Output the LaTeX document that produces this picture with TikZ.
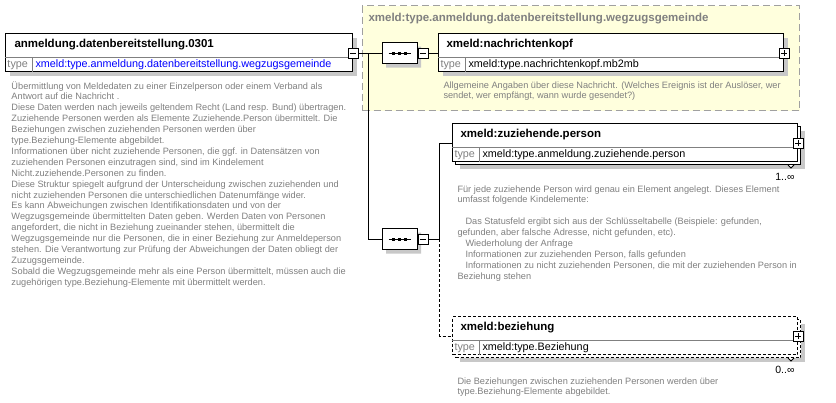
\documentclass[tikz,border=0pt]{standalone}
\usepackage{fontspec}
\setmainfont{Liberation Sans}
\usetikzlibrary{positioning, calc, shapes.misc, shadows}
\definecolor{grpyellow}{HTML}{FFFFDD}
\definecolor{grpborder}{HTML}{A0A0A0}
\definecolor{shadowgray}{HTML}{C8C8C8}
\definecolor{desctext}{HTML}{808080}

\begin{document}
\begin{tikzpicture}[
  x=1pt, y=-1pt, line width=1pt,
  boxshadow/.style={drop shadow={shadow xshift=4pt, shadow yshift=-4pt, opacity=1, fill=shadowgray}},
  elem/.style={draw, fill=white, anchor=north west, inner sep=0pt, minimum width=345pt, minimum height=38pt},
  optelem/.style={elem, dash pattern=on 3pt off 2pt},
  grpbox/.style={draw=grpborder, fill=grpyellow, dash pattern=on 7pt off 4pt, anchor=north west, inner sep=0pt, minimum width=437pt, minimum height=105pt},
  eltitle/.style={anchor=west, inner sep=0pt, font=\fontsize{11.5}{13}\selectfont\bfseries},
  typelabel/.style={anchor=west, inner sep=0pt, text=desctext, font=\fontsize{10.8}{12}\selectfont},
  typevalue/.style={anchor=west, inner sep=0pt, font=\fontsize{10.8}{12}\selectfont},
  desc/.style={anchor=north west, inner sep=0pt, align=left, text=desctext, font=\fontsize{9.2}{10.9}\selectfont},
  mult/.style={anchor=east, inner sep=0pt, font=\fontsize{10.5}{12}\selectfont},
  sepline/.style={draw=desctext},
  seq/.style={draw, fill=white, chamfered rectangle, chamfered rectangle xsep=5pt, chamfered rectangle ysep=5pt, minimum width=35pt, minimum height=21pt, inner sep=0pt, boxshadow},
  togglebox/.style={draw, fill=white, minimum size=10pt, inner sep=0pt},
  minusbox/.style={togglebox, path picture={\draw[line width=0.8pt] ([xshift=2pt]path picture bounding box.west) -- ([xshift=-2pt]path picture bounding box.east);}},
  plusbox/.style={togglebox, path picture={\draw[line width=0.8pt] ([xshift=2pt]path picture bounding box.west) -- ([xshift=-2pt]path picture bounding box.east) ([yshift=2pt]path picture bounding box.south) -- ([yshift=-2pt]path picture bounding box.north);}}
]

\path[use as bounding box, fill=white] (0,0) rectangle (836,402);

\node[grpbox] (grp) at (362,5) {};
\node[eltitle, text=desctext] (grp-title) at (368,19) {xmeld:type.anmeldung.datenbereitstellung.wegzugsgemeinde};

\node[elem, minimum width=347pt, boxshadow] (main) at (5,33) {};
\node[eltitle] (main-title) at ($(main.north west)+(9,12)$) {anmeldung.datenbereitstellung.0301};
\draw[sepline] ($(main.north west)+(0,24)$) -- ($(main.north east)+(0,24)$);
\draw[sepline] ($(main.south west)+(27,0)$) -- ($(main.south west)+(27,-14)$);
\node[typelabel] (main-type) at ($(main.south west)+(2,-7)$) {type};
\node[typevalue, text=blue] (main-typevalue) at ($(main.south west)+(30,-7)$) {xmeld:type.anmeldung.datenbereitstellung.wegzugsgemeinde};
\node[minusbox] (main-minus) at ($(main.north east)+(0,20)$) {};
\node[desc] (main-desc) at (11,79.5) {\rule{0pt}{9pt}Übermittlung von Meldedaten zu einer Einzelperson oder einem Verband als\\
Antwort auf die Nachricht .\\
Diese Daten werden nach jeweils geltendem Recht (Land resp. Bund) übertragen.\\
Zuziehende Personen werden als Elemente Zuziehende.Person übermittelt. Die\\
Beziehungen zwischen zuziehenden Personen werden über\\
type.Beziehung-Elemente abgebildet.\\
Informationen über nicht zuziehende Personen, die ggf. in Datensätzen von\\
zuziehenden Personen einzutragen sind, sind im Kindelement\\
Nicht.zuziehende.Personen zu finden.\\
Diese Struktur spiegelt aufgrund der Unterscheidung zwischen zuziehenden und\\
nicht zuziehenden Personen die unterschiedlichen Datenumfänge wider.\\
Es kann Abweichungen zwischen Identifikationsdaten und von der\\
Wegzugsgemeinde übermittelten Daten geben. Werden Daten von Personen\\
angefordert, die nicht in Beziehung zueinander stehen, übermittelt die\\
Wegzugsgemeinde nur die Personen, die in einer Beziehung zur Anmeldeperson\\
stehen. Die Verantwortung zur Prüfung der Abweichungen der Daten obliegt der\\
Zuzugsgemeinde.\\
Sobald die Wegzugsgemeinde mehr als eine Person übermittelt, müssen auch die\\
zugehörigen type.Beziehung-Elemente mit übermittelt werden.};

\node[seq] (seq1) at (399.5,53) {};
\node[minusbox, anchor=west] (seq1-minus) at (seq1.east) {};

\node[elem, boxshadow] (kopf) at (438,33) {};
\node[eltitle] (kopf-title) at ($(kopf.north west)+(8,12)$) {xmeld:nachrichtenkopf};
\draw[sepline] ($(kopf.north west)+(0,24)$) -- ($(kopf.north east)+(0,24)$);
\draw[sepline] ($(kopf.south west)+(27,0)$) -- ($(kopf.south west)+(27,-14)$);
\node[typelabel] (kopf-type) at ($(kopf.south west)+(2,-7)$) {type};
\node[typevalue] (kopf-typevalue) at ($(kopf.south west)+(30,-7)$) {xmeld:type.nachrichtenkopf.mb2mb};
\node[plusbox] (kopf-plus) at ($(kopf.north east)+(0,20)$) {};
\node[desc] (kopf-desc) at (443,78.5) {\rule{0pt}{9pt}Allgemeine Angaben über diese Nachricht. (Welches Ereignis ist der Auslöser, wer\\
sendet, wer empfängt, wann wurde gesendet?)};

\node[seq] (seq2) at (399.5,239) {};
\node[minusbox, anchor=west] (seq2-minus) at (seq2.east) {};

\node[elem, boxshadow] (person-back) at (455,126) {};
\node[elem] (person) at (452,123) {};
\node[eltitle] (person-title) at ($(person.north west)+(8,12)$) {xmeld:zuziehende.person};
\draw[sepline] ($(person.north west)+(0,24)$) -- ($(person.north east)+(0,24)$);
\draw[sepline] ($(person.south west)+(27,0)$) -- ($(person.south west)+(27,-14)$);
\node[typelabel] (person-type) at ($(person.south west)+(2,-7)$) {type};
\node[typevalue] (person-typevalue) at ($(person.south west)+(30,-7)$) {xmeld:type.anmeldung.zuziehende.person};
\node[plusbox] (person-plus) at ($(person.north east)+(0,20)$) {};
\draw[fill=white] ($(person-back.south east)+(-13,0)$) -- +(3,3) -- +(6,0);
\node[mult] (person-mult) at ($(person-back.south east)+(-6,12)$) {1..∞};
\node[desc] (person-desc) at (457,182.5) {\rule{0pt}{9pt}Für jede zuziehende Person wird genau ein Element angelegt. Dieses Element\\
umfasst folgende Kindelemente:\\[10.9pt]
\hspace*{8pt}Das Statusfeld ergibt sich aus der Schlüsseltabelle (Beispiele: gefunden,\\
gefunden, aber falsche Adresse, nicht gefunden, etc).\\
\hspace*{8pt}Wiederholung der Anfrage\\
\hspace*{8pt}Informationen zur zuziehenden Person, falls gefunden\\
\hspace*{8pt}Informationen zu nicht zuziehenden Personen, die mit der zuziehenden Person in\\
Beziehung stehen};

\node[optelem, boxshadow] (bez-back) at (455,319) {};
\node[optelem] (bez) at (452,316) {};
\node[eltitle] (bez-title) at ($(bez.north west)+(8,12)$) {xmeld:beziehung};
\draw[sepline] ($(bez.north west)+(0,24)$) -- ($(bez.north east)+(0,24)$);
\draw[sepline] ($(bez.south west)+(27,0)$) -- ($(bez.south west)+(27,-14)$);
\node[typelabel] (bez-type) at ($(bez.south west)+(2,-7)$) {type};
\node[typevalue] (bez-typevalue) at ($(bez.south west)+(30,-7)$) {xmeld:type.Beziehung};
\node[plusbox] (bez-plus) at ($(bez.north east)+(0,20)$) {};
\draw[fill=white] ($(bez-back.south east)+(-13,0)$) -- +(3,3) -- +(6,0);
\node[mult] (bez-mult) at ($(bez-back.south east)+(-6,12)$) {0..∞};
\node[desc] (bez-desc) at (457,374.5) {\rule{0pt}{9pt}Die Beziehungen zwischen zuziehenden Personen werden über\\
type.Beziehung-Elemente abgebildet.};

\foreach \s in {seq1, seq2} {
  \draw ([xshift=-11pt]\s.center) -- ([xshift=11pt]\s.center);
  \foreach \d in {-6, 0, 6}
    \fill ([xshift=\d pt]\s.center) +(-1.5,-1.5) rectangle +(1.5,1.5);
}

\coordinate (fork) at ($(main-minus.east)+(10,0)$);
\draw (main-minus.east) -- (seq1.west);
\draw (fork) |- (seq2.west);
\draw (seq1-minus.east) -- (seq1-minus.east -| kopf.west);
\coordinate (branch) at ($(seq2-minus.east)+(11,0)$);
\draw (seq2-minus.east) -- (branch);
\draw (branch) |- (person-plus -| person.west);
\draw[dash pattern=on 3pt off 2pt] (branch) |- (bez-plus -| bez.west);

\end{tikzpicture}
\end{document}
